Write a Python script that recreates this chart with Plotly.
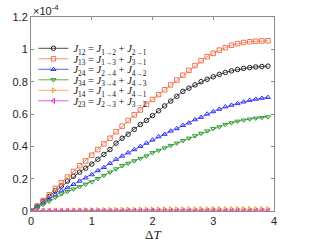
import plotly.graph_objects as go

dT = [round(0.1 * i, 1) for i in range(40)]

# values in units of 1e-4
J12 = [0, 0.03, 0.06, 0.09, 0.125, 0.155, 0.185, 0.215, 0.24, 0.265,
       0.29, 0.32, 0.35, 0.38, 0.42, 0.45, 0.475, 0.505, 0.535, 0.56,
       0.59, 0.62, 0.65, 0.68, 0.71, 0.74, 0.76, 0.78, 0.80, 0.815,
       0.83, 0.845, 0.857, 0.867, 0.875, 0.882, 0.887, 0.891, 0.894, 0.896]
J13 = [0, 0.03, 0.065, 0.10, 0.14, 0.175, 0.21, 0.245, 0.28, 0.31,
       0.345, 0.38, 0.415, 0.45, 0.49, 0.525, 0.56, 0.595, 0.625, 0.66,
       0.69, 0.72, 0.75, 0.78, 0.81, 0.84, 0.87, 0.90, 0.93, 0.955,
       0.975, 0.995, 1.01, 1.025, 1.035, 1.042, 1.047, 1.05, 1.052, 1.053]
J24 = [0, 0.025, 0.05, 0.075, 0.10, 0.125, 0.145, 0.165, 0.185, 0.205,
       0.225, 0.25, 0.27, 0.295, 0.32, 0.34, 0.36, 0.38, 0.40, 0.42,
       0.44, 0.46, 0.475, 0.495, 0.51, 0.53, 0.545, 0.565, 0.58, 0.60,
       0.615, 0.63, 0.645, 0.655, 0.665, 0.675, 0.685, 0.692, 0.698, 0.703]
J34 = [0, 0.02, 0.04, 0.06, 0.085, 0.105, 0.12, 0.135, 0.15, 0.165,
       0.18, 0.20, 0.22, 0.24, 0.26, 0.28, 0.295, 0.31, 0.325, 0.34,
       0.36, 0.375, 0.39, 0.405, 0.42, 0.435, 0.45, 0.465, 0.48, 0.495,
       0.51, 0.52, 0.535, 0.545, 0.555, 0.562, 0.568, 0.574, 0.578, 0.582]
J14 = [0, 0.001, 0.001, 0.002, 0.002, 0.003, 0.003, 0.004, 0.004, 0.005,
       0.005, 0.006, 0.006, 0.007, 0.007, 0.008, 0.008, 0.008, 0.009, 0.009,
       0.009, 0.010, 0.010, 0.010, 0.010, 0.011, 0.011, 0.011, 0.011, 0.011,
       0.012, 0.012, 0.012, 0.012, 0.012, 0.012, 0.012, 0.012, 0.012, 0.012]
J23 = [0.0] * 40

series = [
    ("J12", J12, "<i>J</i><sub>12</sub> = <i>J</i><sub>1→2</sub> + <i>J</i><sub>2→1</sub>", "#222222", "circle-open"),
    ("J13", J13, "<i>J</i><sub>13</sub> = <i>J</i><sub>1→3</sub> + <i>J</i><sub>3→1</sub>", "#EC7550", "square-open"),
    ("J24", J24, "<i>J</i><sub>24</sub> = <i>J</i><sub>2→4</sub> + <i>J</i><sub>4→2</sub>", "#3333FF", "triangle-up-open"),
    ("J34", J34, "<i>J</i><sub>34</sub> = <i>J</i><sub>3→4</sub> + <i>J</i><sub>4→3</sub>", "#2E9A2E", "triangle-down-open"),
    ("J14", J14, "<i>J</i><sub>14</sub> = <i>J</i><sub>1→4</sub> + <i>J</i><sub>4→1</sub>", "#F0A030", "triangle-right-open"),
    ("J23", J23, "<i>J</i><sub>23</sub> = <i>J</i><sub>2→3</sub> + <i>J</i><sub>3→2</sub>", "#E030D0", "triangle-left-open"),
]

W, H = 309, 246
ML, MR, MT, MB = 31, 35, 17, 35
plot_h = H - MT - MB
row_pix = [48.3, 58.8, 69.3, 79.8, 90.3, 100.8]  # legend row centres (px from top)

fig = go.Figure()
legend_layouts = {}
for i, (key, vals, label, color, sym) in enumerate(series):
    lname = "legend" if i == 0 else f"legend{i + 1}"
    fig.add_trace(go.Scatter(
        x=dT, y=vals, name=label, mode="lines+markers",
        line=dict(color=color, width=0.8),
        marker=dict(symbol=sym, size=4.5, color=color, line=dict(width=1, color=color)),
        legend=lname,
    ))
    ypaper = (H - MB - row_pix[i]) / plot_h
    legend_layouts[lname] = dict(
        x=0.01, y=ypaper, xanchor="left", yanchor="middle",
        bgcolor="rgba(0,0,0,0)", borderwidth=0, itemwidth=30,
        font=dict(family="Liberation Serif, DejaVu Serif", size=10.5, color="#111111"),
    )

axis_common = dict(
    showline=True, linecolor="#8c8c8c", linewidth=1, mirror="ticks",
    ticks="inside", ticklen=3, tickcolor="#8c8c8c", showgrid=False, zeroline=False,
    automargin=False,
    tickfont=dict(family="Liberation Sans, Arial", size=11, color="#222222"),
)

fig.update_layout(
    width=W, height=H,
    margin=dict(l=ML, r=MR, t=MT, b=MB, autoexpand=False),
    paper_bgcolor="white", plot_bgcolor="white",
    showlegend=True,
    xaxis=dict(range=[0, 4], tickvals=[0, 1, 2, 3, 4], **axis_common),
    yaxis=dict(range=[0, 1.2], tickvals=[0, 0.2, 0.4, 0.6, 0.8, 1.0, 1.2],
               ticktext=["0", "0.2", "0.4", "0.6", "0.8", "1", "1.2"], **axis_common),
    **legend_layouts,
)

fig.add_annotation(xref="paper", yref="paper", x=0.0, y=1.0, xanchor="left", yanchor="bottom",
                   text="×10<sup>-4</sup>", showarrow=False, yshift=-2,
                   font=dict(family="Liberation Sans, Arial", size=11, color="#222222"))
fig.add_annotation(xref="paper", yref="paper", x=0.5, y=0, xanchor="center", yanchor="top",
                   text="Δ<i>T</i>", showarrow=False, yshift=-14,
                   font=dict(family="Liberation Serif, DejaVu Serif", size=13, color="#222222"))

fig.write_html("out.html", post_script="document.body.style.margin='0';",
               config={"displayModeBar": False})
